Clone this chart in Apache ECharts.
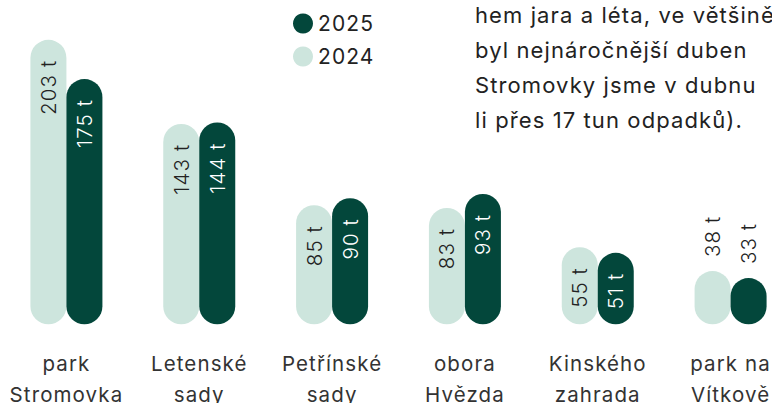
<!DOCTYPE html>
<html>
<head>
<meta charset="utf-8">
<script src="https://cdn.jsdelivr.net/npm/echarts@6/dist/echarts.min.js"></script>
<style>
  html, body { margin: 0; padding: 0; background: #ffffff; }
  #chart { width: 772px; height: 403px; }
  /* slightly open tracking for all chart text */
  #chart svg text { letter-spacing: 1.1px; }
</style>
</head>
<body>
<div id="chart"></div>
<script>
// Parks and collected waste (tonnes)
const parks = ['park\nStromovka', 'Letenské\nsady', 'Petřínské\nsady', 'obora\nHvězda', 'Kinského\nzahrada', 'park na\nVítkově'];
const waste2024 = [203, 143, 85, 83, 55, 38];
const waste2025 = [175, 144, 90, 93, 51, 33];
const seriesNames = ['2024', '2025'];
const noteLines = [
  'hem jara a léta, ve většině',
  'byl nejnáročnější duben',
  'Stromovky jsme v dubnu',
  'li přes 17 tun odpadků).'
];

const LIGHT = '#cde5dd';
const DARK = '#03473b';
const FONT = 'Inter, "Noto Sans", sans-serif';

// short bars carry their label above the bar
function barData(values, insideColor) {
  return values.map(v => {
    const outside = v < 45;
    return {
      value: v,
      label: outside
        ? { position: 'top', distance: 14, align: 'left', verticalAlign: 'middle', color: '#222' }
        : { position: 'insideTop', distance: 20, align: 'right', verticalAlign: 'middle', color: insideColor }
    };
  });
}

const labelBase = {
  show: true,
  rotate: 90,
  fontFamily: FONT,
  fontSize: 20.5,
  fontWeight: 300,
  formatter: p => p.value + ' t'
};

const chart = echarts.init(document.getElementById('chart'), null, { renderer: 'svg' });
chart.setOption({
  animation: false,
  backgroundColor: '#ffffff',
  legend: {
    data: ['2025', '2024'],
    orient: 'vertical',
    left: 293,
    top: 13,
    padding: 0,
    icon: 'circle',
    itemWidth: 20,
    itemHeight: 20,
    itemGap: 12,
    textStyle: { fontFamily: FONT, fontSize: 21, color: '#222' }
  },
  graphic: noteLines.map((t, i) => ({
    type: 'text',
    left: 475,
    top: 4 + i * 35,
    style: { text: t, fontFamily: FONT, fontSize: 22, fill: '#222' }
  })),
  grid: { left: 0, width: 797, top: 16, bottom: 78.7, containLabel: false, outerBoundsMode: 'none' },
  xAxis: {
    type: 'category',
    data: parks,
    axisLine: { show: false },
    axisTick: { show: false },
    axisLabel: { margin: 24, fontFamily: FONT, fontSize: 20.5, lineHeight: 31, color: '#333', interval: 0 }
  },
  yAxis: {
    type: 'value',
    min: 0,
    max: 220,
    show: false,
    splitLine: { show: false }
  },
  series: [
    {
      name: seriesNames[0],
      type: 'bar',
      barWidth: 36,
      barGap: '0%',
      itemStyle: { color: LIGHT, borderRadius: 18 },
      label: Object.assign({}, labelBase, { color: '#222' }),
      data: barData(waste2024, '#222')
    },
    {
      name: seriesNames[1],
      type: 'bar',
      barWidth: 36,
      barGap: '0%',
      itemStyle: { color: DARK, borderRadius: 18 },
      label: Object.assign({}, labelBase, { color: '#fff' }),
      data: barData(waste2025, '#ffffff')
    }
  ]
});
</script>
</body>
</html>
